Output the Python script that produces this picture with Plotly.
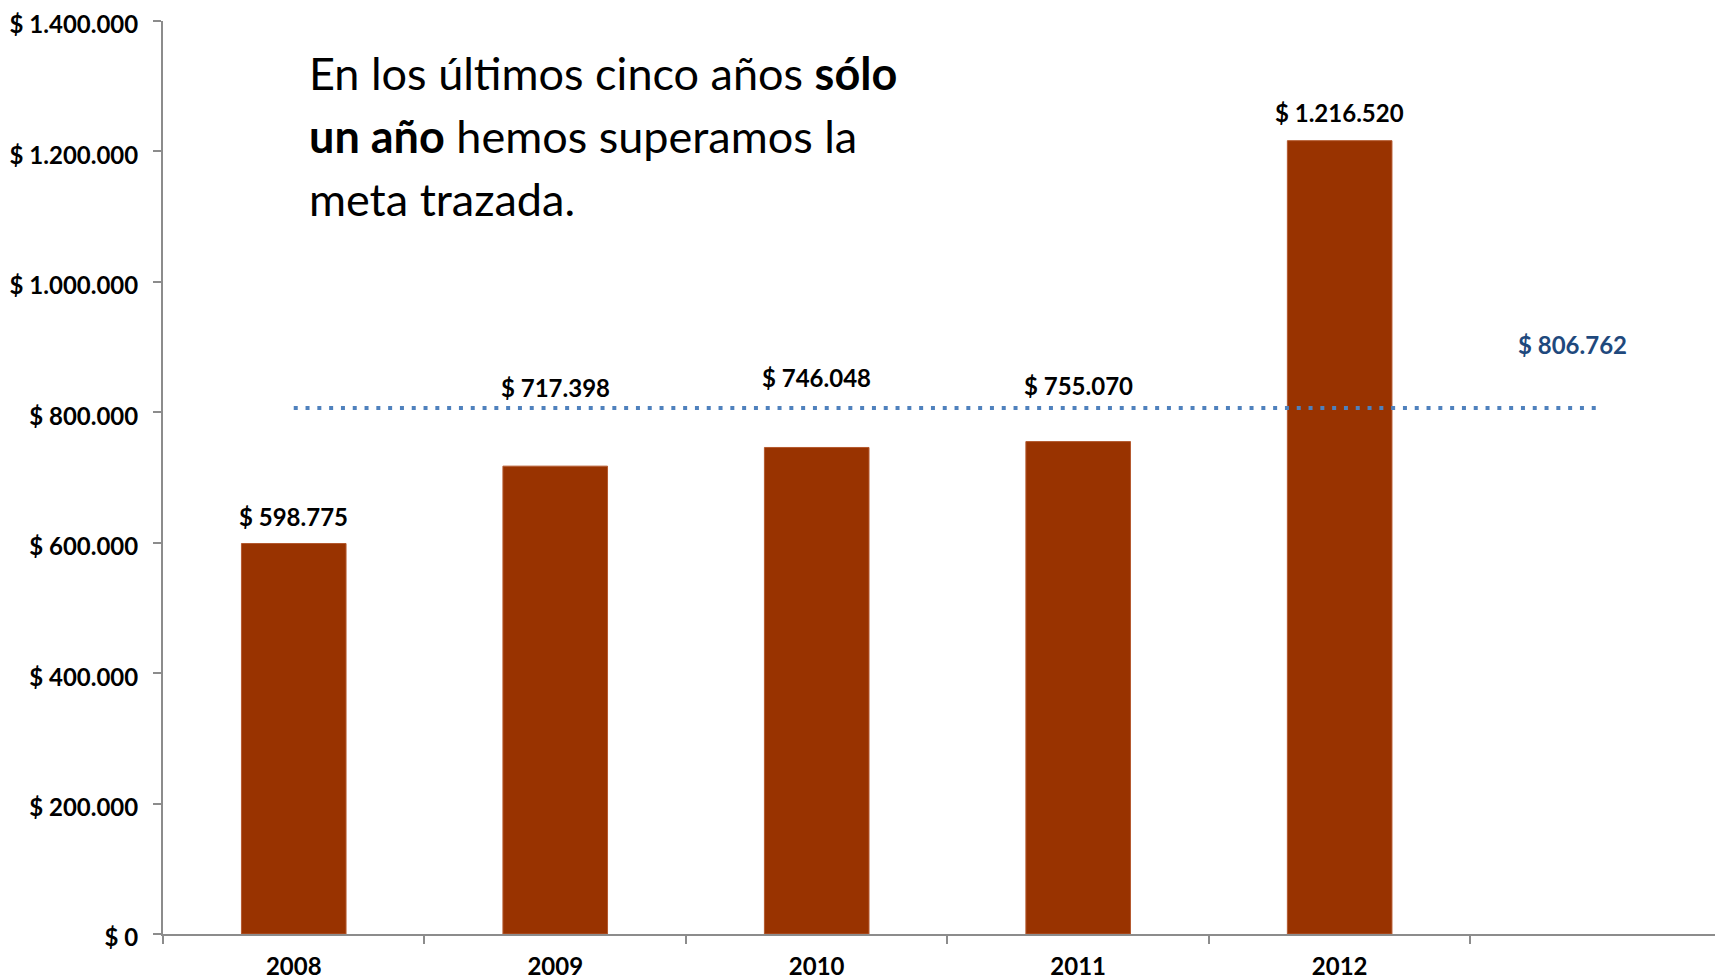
import plotly.graph_objects as go

# datos
anios = ["2008", "2009", "2010", "2011", "2012"]
recaudo = [598775, 717398, 746048, 755070, 1216520]
meta = 806762
ticks_y = [0, 200000, 400000, 600000, 800000, 1000000, 1200000, 1400000]

# desplazamiento vertical (px) de cada etiqueta sobre su barra
desplaz_etiquetas = [27, 79, 70, 56, 28]

fuente = "Lato"
color_barra = "#993300"
color_meta = "#4F81BD"
color_texto_meta = "#1F497D"
color_eje = "#8C8C8C"


def pesos(v: int) -> str:
    return "$ " + f"{v:,}".replace(",", ".")


categorias = anios + [" "]

fig = go.Figure()

fig.add_trace(go.Bar(
    x=anios,
    y=recaudo,
    width=0.4,
    marker_color=color_barra,
    marker_line=dict(color="#B4592E", width=1),
    hoverinfo="skip",
))

fig.add_trace(go.Scatter(
    x=[anios[0], categorias[-1]],
    y=[meta, meta],
    mode="lines",
    line=dict(color=color_meta, width=4, dash="4px,7.8px"),
    hoverinfo="skip",
))

# en eje de categorias la x de la anotacion va como indice
for i, (valor, dy) in enumerate(zip(recaudo, desplaz_etiquetas)):
    fig.add_annotation(
        x=i, y=valor, text="<b>" + pesos(valor) + "</b>",
        showarrow=False, yshift=dy, yanchor="middle",
        font=dict(family=fuente, size=24, color="black"),
    )

fig.add_annotation(
    x=len(categorias) - 1, y=meta, text="<b>" + pesos(meta) + "</b>",
    showarrow=False, xshift=-29, yshift=63, yanchor="middle",
    font=dict(family=fuente, size=24, color=color_texto_meta),
)

lineas = [
    "En los últimos cinco años <b>sólo</b>",
    "<b>un año</b> hemos superamos la",
    "meta trazada.",
]
for i, linea in enumerate(lineas):
    fig.add_annotation(
        xref="paper", yref="paper",
        x=(307 - 163) / 1560, y=(934 - 73 - 63 * i) / 913,
        text=linea, showarrow=False, xanchor="left", yanchor="middle",
        align="left",
        font=dict(family=fuente, size=45, color="black"),
    )

# la pagina deja 8px de margen en el body
fig.update_layout(
    width=1715,
    height=972,
    margin=dict(l=155, r=0, t=13, b=46),
    plot_bgcolor="white",
    paper_bgcolor="white",
    showlegend=False,
    separators=",.",
    bargap=0.6,
)

fig.update_xaxes(
    type="category",
    categoryorder="array",
    categoryarray=categorias,
    range=[-0.5, 5.466],
    showline=True, linecolor=color_eje, linewidth=2,
    ticks="outside", tickson="boundaries", ticklen=8, tickcolor=color_eje, tickwidth=2,
    showgrid=False,
    tickfont=dict(family=fuente, size=24, color="black", weight="bold"),
    ticklabelstandoff=10,
    ticklabeloverflow="allow",
    automargin=False,
)

fig.update_yaxes(
    range=[0, 1400000],
    tickvals=ticks_y,
    ticktext=[pesos(v) for v in ticks_y],
    showline=True, linecolor=color_eje, linewidth=2,
    ticks="outside", ticklen=8, tickcolor=color_eje, tickwidth=2,
    showgrid=False, zeroline=False,
    tickfont=dict(family=fuente, size=24, color="black", weight="bold"),
    ticklabelstandoff=10,
    ticklabelshift=4,
    ticklabeloverflow="allow",
    automargin=False,
)

fig.write_html("out.html")
